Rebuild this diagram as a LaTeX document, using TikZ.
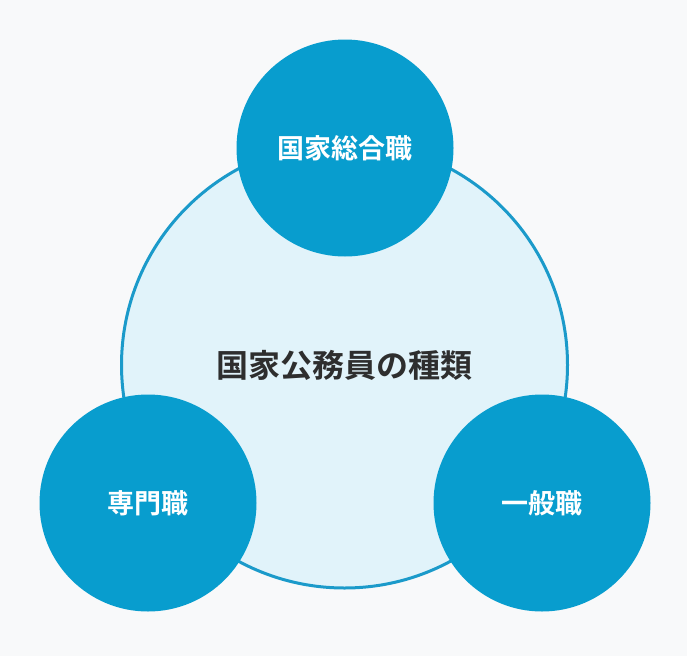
\documentclass[tikz,border=0pt]{standalone}
\usepackage{fontspec}
\newfontfamily\jpfont{Noto Sans CJK JP}[BoldFont={Noto Sans CJK JP Bold}]

\definecolor{bgcol}{HTML}{F8F9FA}
\definecolor{mainblue}{HTML}{089DCE}
\definecolor{ringblue}{HTML}{1B9ACA}
\definecolor{paleblue}{HTML}{E1F3FA}
\definecolor{textdark}{HTML}{2E2E2E}

\begin{document}
\begin{tikzpicture}[
	x=1pt, y=-1pt,
	hub/.style={circle, draw=ringblue, line width=3pt, fill=paleblue, minimum size=446pt, inner sep=0pt,
		font=\jpfont\bfseries\fontsize{32}{36}\selectfont, text=textdark},
	kind/.style={circle, fill=mainblue, minimum size=217pt, inner sep=0pt,
		font=\jpfont\bfseries\fontsize{27}{32}\selectfont, text=white}
	]
	
	%-----------------------
	% Background
	%-----------------------
	\fill[bgcol] (0,0) rectangle (687,656);
	\useasboundingbox (0,0) rectangle (687,656);
	
	%-----------------------
	% Centre: all types
	%-----------------------
	\node[hub] (Hub) at (344.5,365) {国家公務員の種類};
	
	%-----------------------
	% Three kinds of post
	%-----------------------
	\node[kind] (Sogo)   at (345,148) {国家総合職};
	\node[kind] (Senmon) at (148,503) {専門職};
	\node[kind] (Ippan)  at (542,503) {一般職};
	
\end{tikzpicture}
\end{document}
